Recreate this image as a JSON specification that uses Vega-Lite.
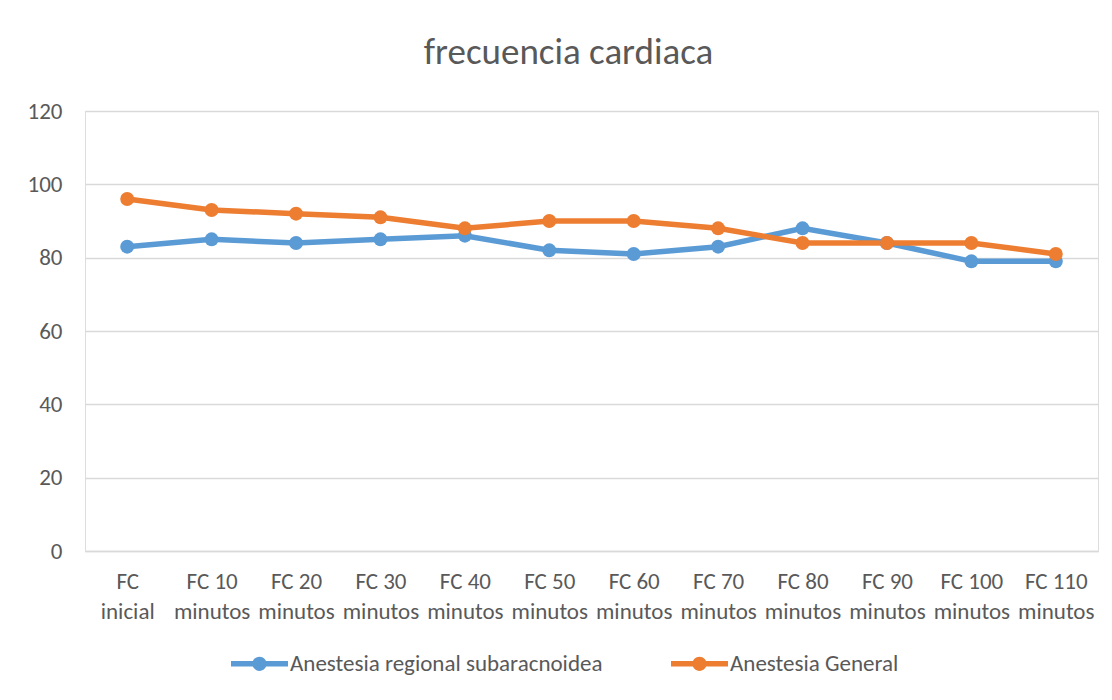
{
  "$schema": "https://vega.github.io/schema/vega-lite/v6.json",
  "width": 1013,
  "height": 440,
  "autosize": {"type": "none"},
  "padding": {"left": 85, "top": 111, "right": 14, "bottom": 149},
  "background": "white",
  "title": {
    "text": "frecuencia cardiaca",
    "fontSize": 37,
    "font": "Carlito, Lato, sans-serif",
    "fontWeight": "normal",
    "color": "#595959",
    "anchor": "middle",
    "dx": -23,
    "offset": 28
  },
  "data": {
    "values": [
      {"cat": "FC|inicial", "serie": "Anestesia regional subaracnoidea", "fc": 83},
      {"cat": "FC 10|minutos", "serie": "Anestesia regional subaracnoidea", "fc": 85},
      {"cat": "FC 20|minutos", "serie": "Anestesia regional subaracnoidea", "fc": 84},
      {"cat": "FC 30|minutos", "serie": "Anestesia regional subaracnoidea", "fc": 85},
      {"cat": "FC 40|minutos", "serie": "Anestesia regional subaracnoidea", "fc": 86},
      {"cat": "FC 50|minutos", "serie": "Anestesia regional subaracnoidea", "fc": 82},
      {"cat": "FC 60|minutos", "serie": "Anestesia regional subaracnoidea", "fc": 81},
      {"cat": "FC 70|minutos", "serie": "Anestesia regional subaracnoidea", "fc": 83},
      {"cat": "FC 80|minutos", "serie": "Anestesia regional subaracnoidea", "fc": 88},
      {"cat": "FC 90|minutos", "serie": "Anestesia regional subaracnoidea", "fc": 84},
      {"cat": "FC 100|minutos", "serie": "Anestesia regional subaracnoidea", "fc": 79},
      {"cat": "FC 110|minutos", "serie": "Anestesia regional subaracnoidea", "fc": 79},
      {"cat": "FC|inicial", "serie": "Anestesia General", "fc": 96},
      {"cat": "FC 10|minutos", "serie": "Anestesia General", "fc": 93},
      {"cat": "FC 20|minutos", "serie": "Anestesia General", "fc": 92},
      {"cat": "FC 30|minutos", "serie": "Anestesia General", "fc": 91},
      {"cat": "FC 40|minutos", "serie": "Anestesia General", "fc": 88},
      {"cat": "FC 50|minutos", "serie": "Anestesia General", "fc": 90},
      {"cat": "FC 60|minutos", "serie": "Anestesia General", "fc": 90},
      {"cat": "FC 70|minutos", "serie": "Anestesia General", "fc": 88},
      {"cat": "FC 80|minutos", "serie": "Anestesia General", "fc": 84},
      {"cat": "FC 90|minutos", "serie": "Anestesia General", "fc": 84},
      {"cat": "FC 100|minutos", "serie": "Anestesia General", "fc": 84},
      {"cat": "FC 110|minutos", "serie": "Anestesia General", "fc": 81}
    ]
  },
  "encoding": {
    "x": {
      "field": "cat",
      "type": "nominal",
      "sort": null,
      "title": null,
      "axis": {
        "labelAngle": 0,
        "labelExpr": "split(datum.label, '|')",
        "labelFontSize": 23,
        "labelLineHeight": 30,
        "labelPadding": 19,
        "labelBaseline": "top",
        "labelColor": "#595959",
        "labelFont": "Carlito, Lato, sans-serif",
        "labelLimit": 0,
        "labelOverlap": false,
        "ticks": false,
        "domainColor": "#d9d9d9",
        "domainWidth": 1.5,
        "grid": false
      }
    },
    "y": {
      "field": "fc",
      "type": "quantitative",
      "title": null,
      "scale": {"domain": [0, 120], "nice": false},
      "axis": {
        "values": [0, 20, 40, 60, 80, 100, 120],
        "labelFontSize": 23,
        "labelColor": "#595959",
        "labelFont": "Carlito, Lato, sans-serif",
        "labelPadding": 23,
        "ticks": false,
        "domain": false,
        "gridColor": "#d9d9d9",
        "gridWidth": 1.5
      }
    },
    "color": {
      "field": "serie",
      "type": "nominal",
      "sort": ["Anestesia regional subaracnoidea", "Anestesia General"],
      "scale": {
        "domain": ["Anestesia regional subaracnoidea", "Anestesia General"],
        "range": ["#5B9BD5", "#ED7D31"]
      },
      "legend": {
        "title": null,
        "orient": "none",
        "direction": "horizontal",
        "legendX": 146,
        "legendY": 524,
        "symbolType": "M -1 -0.1 L 1 -0.1 L 1 0.1 L -1 0.1 Z M 0.25 0 A 0.25 0.25 0 1 1 -0.25 0 A 0.25 0.25 0 1 1 0.25 0 Z",
        "symbolSize": 3249,
        "symbolStrokeWidth": 0,
        "labelFontSize": 23,
        "labelColor": "#595959",
        "labelFont": "Carlito, Lato, sans-serif",
        "labelLimit": 0,
        "labelOffset": 2,
        "columnPadding": 68,
        "encode": {
          "symbols": {
            "update": {
              "fill": {"scale": "color", "field": "value"},
              "stroke": {"value": "transparent"},
              "opacity": {"value": 1}
            }
          }
        }
      }
    }
  },
  "layer": [
    {"mark": {"type": "line", "strokeWidth": 5.5}},
    {"mark": {"type": "point", "filled": true, "size": 195, "opacity": 1, "shape": "circle"}}
  ]
}
